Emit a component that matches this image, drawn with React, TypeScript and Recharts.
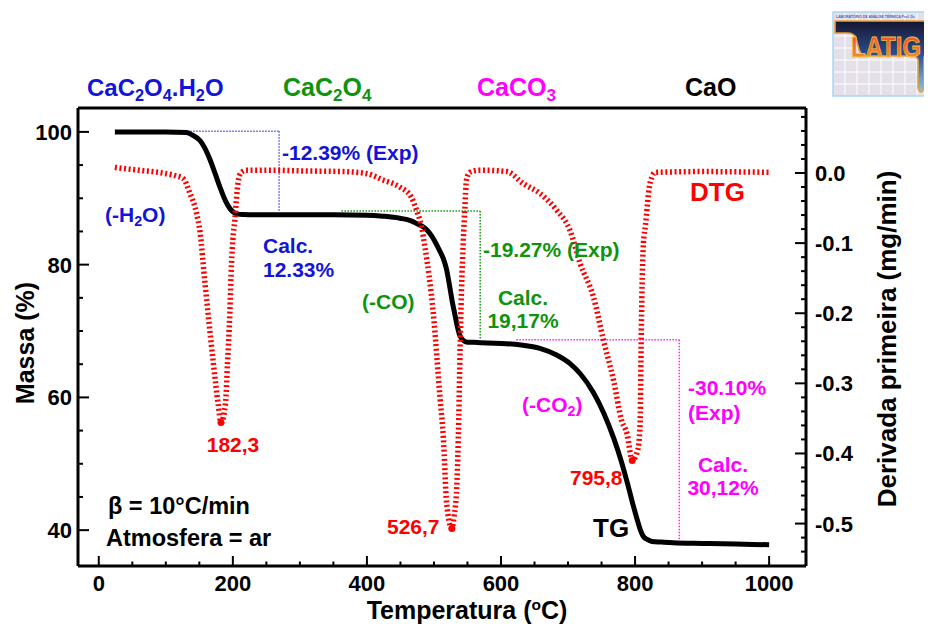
import { LineChart, Line, XAxis, YAxis, ReferenceLine, ReferenceDot } from 'recharts'

const FONT = '"Liberation Sans", Arial, Helvetica, sans-serif'

// TG (massa %)
const tgTemp = [24, 60, 100, 131, 140, 151, 158, 166, 174, 181, 189, 196, 201, 206, 215, 250, 300, 350, 400, 424, 449, 466, 474, 486.6, 494, 509, 514, 519, 523, 527, 531, 535, 538, 541, 545, 548, 560, 580, 608, 630, 658, 683, 703, 718, 738, 753, 768, 780, 788, 796, 804, 808, 812, 818, 825, 840, 857, 900, 950, 1000]
const tgMass = [100, 100, 100, 99.9, 99.5, 98.7, 97.6, 95.8, 93.6, 91.6, 89.6, 88.4, 87.9, 87.65, 87.55, 87.5, 87.5, 87.5, 87.45, 87.3, 87.0, 86.6, 86.2, 85.5, 84.7, 82.0, 80.9, 79.2, 77.0, 74.6, 72.6, 70.6, 69.5, 68.9, 68.5, 68.35, 68.3, 68.2, 68.1, 67.9, 67.4, 66.4, 65.1, 63.6, 60.7, 57.7, 53.9, 50.2, 47.3, 44.2, 41.3, 40.0, 39.1, 38.6, 38.3, 38.2, 38.1, 38.0, 37.9, 37.8]

// DTG (mg/min)
const dtgTemp = [24, 40, 60, 80, 101, 115, 126, 136, 146, 151, 158, 163, 171, 178, 182.3, 189, 192, 195.5, 198, 200, 203, 205.5, 208, 212, 220, 260, 300, 365, 400, 424, 449, 466, 474, 481.5, 486.6, 499, 509, 514, 519, 526.7, 530, 534, 537, 539, 541, 543.8, 546, 548.5, 553.6, 568.7, 609, 633, 658, 683, 703, 718, 738, 753, 768, 780, 788, 795.8, 804, 807.5, 809, 810.5, 812.5, 815.5, 818, 820, 825, 830, 900, 1000]
const dtgValue = [0.008, 0.006, 0.004, 0.002, -0.001, -0.004, -0.008, -0.029, -0.058, -0.084, -0.153, -0.2, -0.272, -0.329, -0.356, -0.329, -0.272, -0.2, -0.129, -0.095, -0.067, -0.035, -0.012, 0.0, 0.004, 0.004, 0.003, 0.002, -0.001, -0.01, -0.02, -0.034, -0.053, -0.077, -0.106, -0.2, -0.32, -0.377, -0.472, -0.507, -0.49, -0.448, -0.35, -0.25, -0.17, -0.096, -0.053, -0.01, 0.001, 0.004, 0.002, -0.015, -0.029, -0.053, -0.082, -0.129, -0.177, -0.239, -0.296, -0.353, -0.372, -0.41, -0.395, -0.36, -0.25, -0.16, -0.1, -0.075, -0.05, -0.029, -0.006, 0.001, 0.002, 0.001]

// picos do DTG
const peakTemp = [182.3, 526.7, 795.8]
const peakValue = [-0.356, -0.507, -0.41]

// patamares usados nas chaves de perda de massa
const blueStep = { from: 123, to: 269, top: 100.1, bottom: 88.0 }
const greenStep = { from: 362, to: 569, top: 88.1, bottom: 68.7 }
const pinkStep = { from: 623, to: 866, top: 68.7, bottom: 38.5 }

const xTicks = [0, 50, 100, 150, 200, 250, 300, 350, 400, 450, 500, 550, 600, 650, 700, 750, 800, 850, 900, 950, 1000]
const massTicks = [40, 45, 50, 55, 60, 65, 70, 75, 80, 85, 90, 95, 100]
const derivTicks = [0.08, 0.06, 0.04, 0.02, 0, -0.02, -0.04, -0.06, -0.08, -0.1, -0.12, -0.14, -0.16, -0.18, -0.2, -0.22, -0.24, -0.26, -0.28, -0.3, -0.32, -0.34, -0.36, -0.38, -0.4, -0.42, -0.44, -0.46, -0.48, -0.5, -0.52, -0.54]

const X_DOMAIN: [number, number] = [-31, 1055]
const MASS_DOMAIN: [number, number] = [34.6, 103.6]
const DERIV_DOMAIN: [number, number] = [-0.5605, 0.0927]

const tgData = tgTemp.map((t, i) => ({ t, m: tgMass[i] }))
const dtgData = dtgTemp.map((t, i) => ({ t, d: dtgValue[i] }))

const BLUE = '#1414d8'
const GREEN = '#0f930f'
const PINK = '#ff00ff'
const RED = '#ff0000'

const tickText = { fontFamily: FONT, fontWeight: 700, fontSize: 22, fill: '#000' }

function BottomTick({ x, y, payload }: any) {
  const v = payload.value
  const major = v % 200 === 0
  return (
    <g>
      <line x1={x} x2={x} y1={y} y2={y - (major ? 10 : 4.5)} stroke="#000" strokeWidth={2} />
      {major && <text x={x} y={y + 25} textAnchor="middle" {...tickText}>{v}</text>}
    </g>
  )
}

function LeftTick({ x, y, payload }: any) {
  const v = payload.value
  const major = v % 20 === 0
  return (
    <g>
      <line x1={x} x2={x + (major ? 11 : 5)} y1={y} y2={y} stroke="#000" strokeWidth={2} />
      {major && <text x={x - 6} y={y + 8} textAnchor="end" {...tickText}>{v}</text>}
    </g>
  )
}

function RightTick({ x, y, payload }: any) {
  const v = payload.value
  const major = Math.abs(Math.round(v * 10) - v * 10) < 1e-6 && v <= 0
  return (
    <g>
      <line x1={x} x2={x - (major ? 11 : 5)} y1={y} y2={y} stroke="#000" strokeWidth={2} />
      {major && <text x={x + 9} y={y + 8} textAnchor="start" {...tickText}>{v === 0 ? '0.0' : v.toFixed(1)}</text>}
    </g>
  )
}

// "CaC_2O_4" -> tspans com subscrito
function chem(f: string, dy = 5) {
  const out: any[] = []
  let down = false
  f.split(/(_\d)/).filter(Boolean).forEach((s, k) => {
    if (s[0] === '_') {
      out.push(<tspan key={k} fontSize="0.68em" dy={down ? 0 : dy}>{s.slice(1)}</tspan>)
      down = true
    } else {
      out.push(<tspan key={k} dy={down ? -dy : 0}>{s}</tspan>)
      down = false
    }
  })
  return out
}

function Logo() {
  const vx = [845, 857, 869, 881, 893, 905, 917, 929]
  const hy = [24, 36, 48, 60, 72, 84]
  return (
    <g>
      <defs>
        <linearGradient id="logoBand" x1="0" y1="0" x2="0" y2="1">
          <stop offset="0" stopColor="#15152e" />
          <stop offset="0.45" stopColor="#2b4c8c" />
          <stop offset="1" stopColor="#8ec4e6" />
        </linearGradient>
        <linearGradient id="logoTxt" x1="0" y1="0" x2="0" y2="1">
          <stop offset="0" stopColor="#e8402a" />
          <stop offset="1" stopColor="#f2a030" />
        </linearGradient>
      </defs>
      <rect x={833} y={12} width={101} height={84} fill="#e3e0e9" stroke="#a9d6f3" strokeWidth={1.5} />
      {vx.map((x) => <line key={'v' + x} x1={x} x2={x} y1={13} y2={95} stroke="#ffffff" strokeWidth={1} />)}
      {hy.map((y) => <line key={'h' + y} x1={834} x2={932} y1={y} y2={y} stroke="#ffffff" strokeWidth={1} />)}
      <path
        d="M835 21 H932 V50 Q925 52 924 58 V88 Q921 96 918 88 V60 Q917 56 910 56 H866 Q860 56 858 46 L856 38 Q854 33 847 33 H835 Z"
        fill="url(#logoBand)"
        stroke="#e9a032"
        strokeWidth={1.6}
      />
      <text x={836} y={18} fontFamily={FONT} fontWeight={700} fontSize={3.5} fill="#4a64b4">LABORATÓRIO DE ANÁLISE TÉRMICA Prof. Dr.</text>
      <text x={886} y={57} textAnchor="middle" fontFamily={FONT} fontWeight={700} fontSize={24} fill="url(#logoTxt)" stroke="#f4c040" strokeWidth={0.6} transform="translate(0,-14) scale(1,1.25)">LATIG</text>
    </g>
  )
}

function Overlay() {
  const t = { fontFamily: FONT, fontWeight: 700 }
  return (
    <svg width={932} height={628} style={{ position: 'absolute', left: -8, top: -8, pointerEvents: 'none', overflow: 'visible' }}>
      <Logo />
      {/* fases */}
      <text x={87} y={96} fontSize={24} fill={BLUE} {...t}>{chem('CaC_2O_4.H_2O')}</text>
      <text x={283} y={96} fontSize={25} fill={GREEN} {...t}>{chem('CaC_2O_4')}</text>
      <text x={477} y={96} fontSize={25} fill={PINK} {...t}>{chem('CaCO_3')}</text>
      <text x={685} y={96} fontSize={25} fill="#000" {...t}>CaO</text>

      {/* perdas de massa */}
      <text x={282} y={160} fontSize={21} fill={BLUE} {...t}>-12.39% (Exp)</text>
      <text x={105} y={222} fontSize={21} fill={BLUE} {...t}>{chem('(-H_2O)', 4)}</text>
      <text x={263} y={253} fontSize={21} fill={BLUE} {...t}>Calc.</text>
      <text x={263} y={277} fontSize={21} fill={BLUE} {...t}>12.33%</text>

      <text x={362} y={309} fontSize={21} fill={GREEN} {...t}>(-CO)</text>
      <text x={483} y={257} fontSize={21} fill={GREEN} {...t}>-19.27% (Exp)</text>
      <text x={523} y={305} fontSize={21} fill={GREEN} textAnchor="middle" {...t}>Calc.</text>
      <text x={523} y={328} fontSize={21} fill={GREEN} textAnchor="middle" {...t}>19,17%</text>

      <text x={522} y={412} fontSize={21} fill={PINK} {...t}>{chem('(-CO_2)', 4)}</text>
      <text x={688} y={395} fontSize={21} fill={PINK} {...t}>-30.10%</text>
      <text x={688} y={420} fontSize={21} fill={PINK} {...t}>(Exp)</text>
      <text x={723} y={472} fontSize={21} fill={PINK} textAnchor="middle" {...t}>Calc.</text>
      <text x={723} y={495} fontSize={21} fill={PINK} textAnchor="middle" {...t}>30,12%</text>

      <text x={690} y={201} fontSize={26} fill={RED} {...t}>DTG</text>
      <text x={593} y={537} fontSize={26} fill="#000" {...t}>TG</text>

      <text x={233} y={452} fontSize={21} fill={RED} textAnchor="middle" {...t}>182,3</text>
      <text x={387} y={534} fontSize={21} fill={RED} {...t}>526,7</text>
      <text x={570} y={485} fontSize={21} fill={RED} {...t}>795,8</text>

      <text x={108} y={514} fontSize={23.5} fill="#000" {...t}>β = 10°C/min</text>
      <text x={106} y={546} fontSize={23.5} fill="#000" {...t}>Atmosfera = ar</text>

      {/* títulos dos eixos */}
      <text x={467} y={619} fontSize={25} fill="#000" textAnchor="middle" {...t}>
        <tspan>Temperatura (</tspan>
        <tspan fontSize="0.62em" dy={-9}>o</tspan>
        <tspan dy={9}>C)</tspan>
      </text>
      <text transform="translate(34,343) rotate(-90)" fontSize={25} fill="#000" textAnchor="middle" {...t}>Massa (%)</text>
      <text transform="translate(896,339) rotate(-90)" fontSize={26} fill="#000" textAnchor="middle" {...t}>Derivada primeira (mg/min)</text>
    </svg>
  )
}

export default function App() {
  const bracket = (s: { from: number; to: number; top: number; bottom: number }, color: string, key: string) => [
    <ReferenceLine key={key + 'h'} yAxisId="left" segment={[{ x: s.from, y: s.top }, { x: s.to, y: s.top }]} stroke={color} strokeWidth={1.5} strokeDasharray="1.5 1.5" />,
    <ReferenceLine key={key + 'v'} yAxisId="left" segment={[{ x: s.to, y: s.top }, { x: s.to, y: s.bottom }]} stroke={color} strokeWidth={1.5} strokeDasharray="1.5 1.5" />,
  ]
  return (
    <div style={{ position: 'relative', width: 924, height: 620, background: '#fff' }}>
      <LineChart width={924} height={612} margin={{ top: 100, right: 10, bottom: 4, left: 0 }}>
        <XAxis
          type="number"
          dataKey="t"
          domain={X_DOMAIN}
          allowDataOverflow
          ticks={xTicks}
          interval={0}
          tickSize={0}
          tickMargin={0}
          tickLine={false}
          tick={(p: any) => <BottomTick {...p} />}
          axisLine={{ stroke: '#000', strokeWidth: 3 }}
          height={50}
        />
        <YAxis
          yAxisId="left"
          type="number"
          domain={MASS_DOMAIN}
          allowDataOverflow
          ticks={massTicks}
          interval={0}
          tickSize={0}
          tickMargin={0}
          tickLine={false}
          tick={(p: any) => <LeftTick {...p} />}
          axisLine={{ stroke: '#000', strokeWidth: 3 }}
          width={70}
        />
        <YAxis
          yAxisId="right"
          orientation="right"
          type="number"
          domain={DERIV_DOMAIN}
          allowDataOverflow
          ticks={derivTicks}
          interval={0}
          tickSize={0}
          tickMargin={0}
          tickLine={false}
          tick={(p: any) => <RightTick {...p} />}
          axisLine={{ stroke: '#000', strokeWidth: 3 }}
          width={116}
        />
        <ReferenceLine yAxisId="left" y={MASS_DOMAIN[1]} stroke="#000" strokeWidth={3} />
        {bracket(blueStep, '#5a5ae6', 'b')}
        {bracket(greenStep, '#119911', 'g')}
        {bracket(pinkStep, '#ff22ff', 'p')}
        <Line
          yAxisId="left"
          data={tgData}
          dataKey="m"
          type="monotone"
          stroke="#000"
          strokeWidth={5}
          dot={false}
          isAnimationActive={false}
        />
        <Line
          yAxisId="right"
          data={dtgData}
          dataKey="d"
          type="monotone"
          stroke={RED}
          strokeWidth={5.5}
          strokeDasharray="2 2.6"
          dot={false}
          isAnimationActive={false}
        />
        {peakTemp.map((t, i) => (
          <ReferenceDot key={t} yAxisId="right" x={t} y={peakValue[i]} r={3.5} fill={RED} stroke="none" />
        ))}
      </LineChart>
      <Overlay />
    </div>
  )
}
